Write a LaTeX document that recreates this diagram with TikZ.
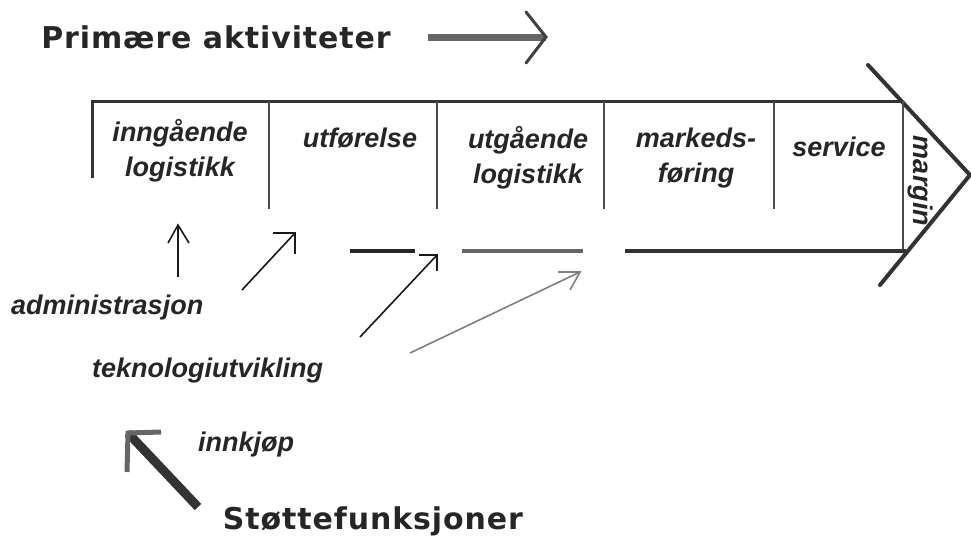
\documentclass[tikz,border=0pt]{standalone}
\usepackage{fontspec}
\setmainfont{Liberation Sans}
\newfontfamily\headfont[LetterSpace=3]{DejaVu Sans}
\begin{document}
\begin{tikzpicture}[x=1pt,y=-1pt,
  cell/.style={font=\bfseries\itshape\fontsize{27}{35}\selectfont, align=center, inner sep=0pt, text=black!85},
  lab/.style={font=\bfseries\itshape\fontsize{27}{32}\selectfont, inner sep=0pt, text=black!85},
  head/.style={font=\headfont\bfseries\fontsize{30}{36}\selectfont, inner sep=0pt, text=black!85},
  frame/.style={line width=3pt, draw=black!80},
  divider/.style={line width=1.2pt, draw=black!70},
  chev/.style={line width=4pt, draw=black!80, line cap=round},
  thin/.style={line width=1.6pt, draw=black!90},
  greyarrow/.style={line width=1.6pt, draw=black!50},
]
\useasboundingbox (0,0) rectangle (971,544);

% title
\node[head] (prim) at (216,37) {Primære aktiviteter};
\coordinate (pa1) at (428,37);
\coordinate (pa2) at (546,37);
\draw[line width=7pt, draw=black!60] (pa1) -- (pa2);
\draw[line width=3pt, draw=black!75, line cap=round] (526,12) -- (pa2) -- (526,63);

% main arrow frame
\coordinate (tl) at (92,101);
\coordinate (tr) at (901,101);
\coordinate (lb) at (92,178);
\draw[frame] (lb) -- (tl) -- (tr);
\coordinate (ch1) at (868,65);
\coordinate (tip) at (970,175);
\coordinate (ch2) at (880,285);
\draw[chev] (ch1) -- (tip) -- (ch2);

% dividers
\foreach \x/\n in {269/a,437/b,604/c,774/d}{
  \coordinate (d\n1) at (\x,101);
  \coordinate (d\n2) at (\x,209);
  \draw[divider] (d\n1) -- (d\n2);
}
\coordinate (de1) at (903,101);
\coordinate (de2) at (903,251);
\draw[divider] (de1) -- (de2);

% bottom line segments
\coordinate (b1a) at (350,251); \coordinate (b1b) at (415,251);
\coordinate (b2a) at (462,251); \coordinate (b2b) at (583,251);
\coordinate (b3a) at (625,251); \coordinate (b3b) at (906,251);
\draw[line width=3.5pt, draw=black!85] (b1a) -- (b1b);
\draw[line width=3.5pt, draw=black!60] (b2a) -- (b2b);
\draw[line width=3.5pt, draw=black!80] (b3a) -- (b3b);

% cells
\node[cell] (c1) at (180,151) {inngående\\logistikk};
\node[cell] (c2) at (360,138) {utførelse};
\node[cell] (c3) at (528,158) {utgående\\logistikk};
\node[cell] (c4) at (696,158) {markeds-\\føring};
\node[cell] (c5) at (839,147) {service};
\node[cell, rotate=-90] (c6) at (920,181) {margin};

% support labels
\node[lab, anchor=west] (adm) at (11,308) {administrasjon};
\node[lab, anchor=west] (tek) at (92,371) {teknologiutvikling};
\node[lab, anchor=west] (inn) at (198,445) {innkjøp};
\node[head] (stf) at (373,521) {Støttefunksjoner};

% arrows
\coordinate (a1s) at (178,277); \coordinate (a1t) at (178,225);
\draw[thin] (a1s) -- (a1t);
\draw[thin] (168,243) -- (a1t) -- (189,243);

\coordinate (a2s) at (242,290); \coordinate (a2t) at (295,233);
\draw[thin] (a2s) -- (a2t);
\draw[thin] (273,233) -- (a2t) -- (295,254);

\coordinate (a3s) at (360,337); \coordinate (a3t) at (437,255);
\draw[thin] (a3s) -- (a3t);
\draw[thin] (419,255) -- (a3t) -- (437,271);

\coordinate (a4s) at (410,353); \coordinate (a4t) at (580,272);
\draw[greyarrow] (a4s) -- (a4t);
\draw[greyarrow] (558,272) -- (a4t) -- (570,290);

\coordinate (a5s) at (198,507); \coordinate (a5t) at (128,433);
\draw[line width=9pt, draw=black!80] (a5s) -- (a5t);
\draw[line width=5pt, draw=black!60] (161,432) -- (a5t) -- (127,472);
\end{tikzpicture}
\end{document}
